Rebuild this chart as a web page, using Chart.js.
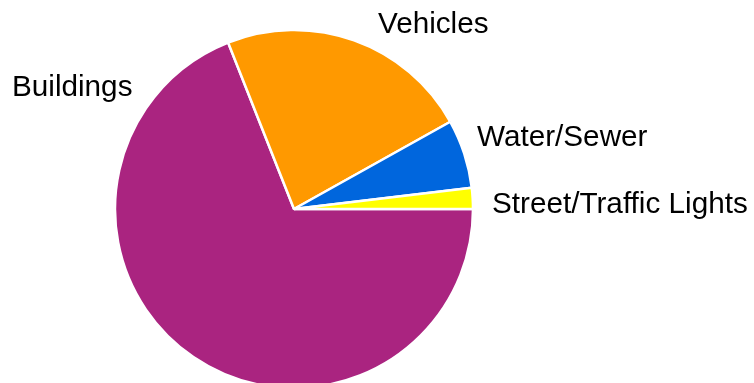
<!DOCTYPE html>
<html>
<head>
<meta charset="utf-8">
<script src="https://cdn.jsdelivr.net/npm/chart.js@4"></script>
<style>
    html, body { margin: 0; padding: 0; background: #fff; overflow: hidden; }
</style>
</head>
<body>
<canvas id="pie-chart" width="754" height="383"></canvas>
<script>
const categories = ['Buildings', 'Vehicles', 'Water/Sewer', 'Street/Traffic Lights'];
const shares = [69.0, 22.9, 6.2, 1.9];
const sliceColors = ['#AA2480', '#FF9900', '#0066DD', '#FFFF00'];

// where each label sits, measured from the pie centre (left edge, baseline)
const labelOffsets = [[-282, -113], [84, -176], [183, -63], [198, 4]];

const outsideLabels = {
    id: 'outsideLabels',
    afterDatasetsDraw(chart) {
        const ctx = chart.ctx;
        const arcs = chart.getDatasetMeta(0).data;
        ctx.save();
        ctx.font = '29.7px "Liberation Sans", Arial, sans-serif';
        ctx.fillStyle = '#000';
        ctx.textAlign = 'left';
        ctx.textBaseline = 'alphabetic';
        arcs.forEach((arc, i) => {
            const off = labelOffsets[i];
            ctx.fillText(chart.data.labels[i], arc.x + off[0], arc.y + off[1]);
        });
        ctx.restore();
    }
};

const ctx = document.getElementById('pie-chart');
//eslint-disable-next-line no-undef
new Chart(ctx, {
    type: 'pie',
    data: {
        labels: categories,
        datasets: [{
            data: shares,
            backgroundColor: sliceColors,
            borderColor: '#fff',
            borderWidth: 2.5,
            clip: false
        }]
    },
    options: {
        responsive: false,
        animation: false,
        rotation: 90,
        radius: 179,
        layout: {
            padding: { left: 0, right: 166, top: 35, bottom: 0 }
        },
        plugins: {
            legend: { display: false },
            tooltip: { enabled: false }
        }
    },
    plugins: [outsideLabels]
});
</script>
</body>
</html>
